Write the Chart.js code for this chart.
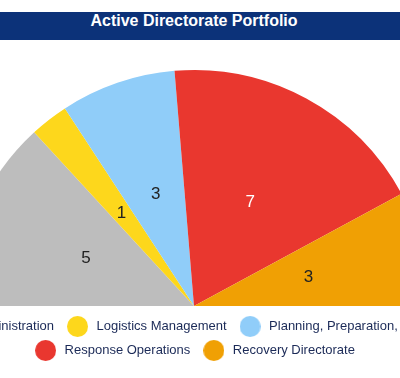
<!DOCTYPE html>
<html>
<head>
<meta charset="utf-8">
<title>Active Directorate Portfolio</title>
<script src="https://cdn.jsdelivr.net/npm/chart.js@4"></script>
<style>
    html, body { margin: 0; padding: 0; overflow: hidden; background: #fff; }
    #wrap { position: absolute; left: -86px; top: 0; width: 560px; height: 378px; }
    #title {
        position: absolute; left: 0; top: 12px; width: 560px;
        height: 28px; line-height: 28px;
        background: #0c3279; color: #fff; text-align: center;
        font: bold 16px Arial, "Liberation Sans", sans-serif;
    }
    #box { position: absolute; left: 0; top: 40px; width: 560px; height: 338px; }
</style>
</head>
<body>
<div id="wrap">
    <div id="title">Active Directorate Portfolio</div>
    <div id="box"><canvas id="portfolio_chart_area"></canvas></div>
</div>
<script>
"use strict"
// directorates and how many active items each one holds
var directorates = ["Administration", "Logistics Management", "Planning, Preparation, Training", "Response Operations", "Recovery Directorate"];
var counts = [5, 1, 3, 7, 3];

var sliceColors = ["#bdbdbd", "#fdd71c", "#90cdf9", "#e9372f", "#f0a004"];
var numberColors = ["#222222", "#222222", "#222222", "#ffffff", "#222222"];
var legendColor = "#1b2a57";

// round legend marker, a bit larger than the default point style
function dot(color){
    var c = document.createElement("canvas");
    c.width = 21;
    c.height = 21;
    var g = c.getContext("2d");
    g.fillStyle = color;
    g.beginPath();
    g.arc(10.5, 10.5, 10.5, 0, Math.PI * 2);
    g.fill();
    return c;
}

// writes the count in the middle of each slice
var sliceNumbers = {
    id: "sliceNumbers",
    afterDatasetsDraw: function(chart){
        var ctx = chart.ctx;
        var meta = chart.getDatasetMeta(0);
        ctx.save();
        ctx.font = '17px Arial, "Liberation Sans", sans-serif';
        ctx.textAlign = "center";
        ctx.textBaseline = "middle";
        meta.data.forEach(function(arc, i){
            var pos = arc.tooltipPosition();
            ctx.fillStyle = numberColors[i];
            ctx.fillText(String(chart.data.datasets[0].data[i]), pos.x, pos.y);
        });
        ctx.restore();
    }
};

var portfolioChartArea = document.getElementById("portfolio_chart_area");
var portfolioChart = new Chart(portfolioChartArea, {
    type: 'pie',
    data: {
        labels: directorates,
        datasets: [
            {
                label: "Active items",
                data: counts,
                backgroundColor: sliceColors,
                borderWidth: 0
            }
        ]
    },
    options: {
        responsive: true,
        maintainAspectRatio: false,
        animation: false,
        rotation: -90,
        circumference: 180,
        radius: 236,
        layout: { padding: { top: 27, bottom: 11 } },
        plugins: {
            tooltip: { enabled: false },
            legend: {
                position: 'bottom',
                labels: {
                    usePointStyle: true,
                    pointStyleWidth: 25,
                    padding: 11,
                    color: legendColor,
                    font: { size: 13, family: 'Arial, "Liberation Sans", sans-serif' },
                    generateLabels: function(chart){
                        return directorates.map(function(name, i){
                            return {
                                text: name,
                                fillStyle: sliceColors[i],
                                strokeStyle: sliceColors[i],
                                fontColor: legendColor,
                                lineWidth: 0,
                                pointStyle: dot(sliceColors[i]),
                                hidden: !chart.getDataVisibility(i),
                                index: i
                            };
                        });
                    }
                }
            }
        }
    },
    plugins: [sliceNumbers]
});
</script>
</body>
</html>
